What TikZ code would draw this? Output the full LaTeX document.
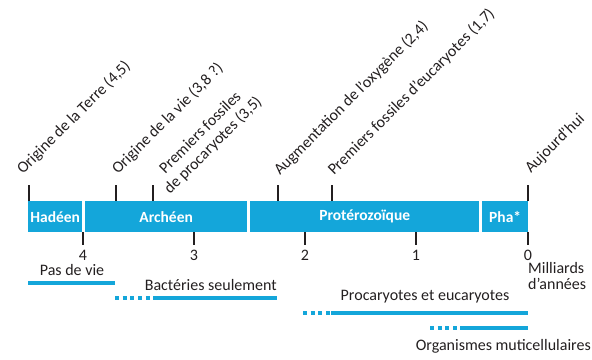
\documentclass[tikz,border=0pt]{standalone}
\usepackage{fontspec}
\setmainfont{Carlito}
\usetikzlibrary{positioning}
\definecolor{geocyan}{HTML}{14A6DA}
\definecolor{geoink}{HTML}{231F20}

\begin{document}
\begin{tikzpicture}[x=1pt,y=1pt,
    font=\fontsize{16}{18}\selectfont,text=geoink,
    era/.style={fill=geocyan,anchor=north west,minimum height=31pt,inner sep=0pt,
      text=white,font=\bfseries\fontsize{15.5}{18}\selectfont},
    evt/.style={rotate=45,inner sep=0pt,anchor=base west},
    tick/.style={geoink,line width=2pt},
    span/.style={geocyan,line width=3.5pt},
    maybe/.style={geocyan,line width=3.5pt,dash pattern=on 4pt off 3.7pt}]
  \useasboundingbox (0,0) rectangle (592,-359);
  % eons
  \foreach \x/\w/\n/\t in {28/54/hadeen/Hadéen,85/162/archeen/Archéen,
      250/229/proterozoique/Protérozoïque,482/46/pha/Pha*}
    \node[era,minimum width=\w pt] (\n) at (\x,-201) {\t};
  % events above the bar
  \foreach \x/\n in {29/terre,116/vie,153/proc,278/oxy,332/euc,528/auj}
    \draw[tick] (\x,-185) coordinate (t\n) -- (\x,-201);
  \node[evt] (lterre) at (23,-175) {Origine de la Terre (4,5)};
  \node[evt] (lvie) at (118,-175) {Origine de la vie (3,8 ?)};
  \node[evt,anchor=south west,align=center] (lproc) at (172,-197)
    {Premiers fossiles\\de procaryotes (3,5)};
  \node[evt] (loxy) at (280,-176) {Augmentation de l'oxygène (2,4)};
  \node[evt] (leuc) at (334,-176) {Premiers fossiles d'eucaryotes (1,7)};
  \node[evt] (lauj) at (531,-174) {Aujourd'hui};
  % scale below the bar
  \foreach \x/\v in {83/4,194/3,305/2,416/1,528/0}{
    \draw[tick] (\x,-232) -- (\x,-245);
    \node[anchor=base,inner sep=0pt] (n\v) at (\x,-260) {\v};
  }
  \node[anchor=north west,inner sep=0pt,align=left,font=\fontsize{16}{16}\selectfont]
    (unit) at (528,-262) {Milliards\\d'années};
  % life
  \node[anchor=base,inner sep=0pt] (nolife) at (72,-275) {Pas de vie};
  \draw[span] (28,-283) -- (115,-283);
  \node[anchor=base east,inner sep=0pt] (bact) at (277,-290) {Bactéries seulement};
  \draw[maybe] (115,-298) -- (152,-298);
  \draw[span] (153,-298) -- (277,-298);
  \node[anchor=base,inner sep=0pt] (euk) at (425,-300) {Procaryotes et eucaryotes};
  \draw[maybe] (303,-313) -- (330,-313);
  \draw[span] (331,-313) -- (528,-313);
  \draw[maybe] (430,-328) -- (457,-328);
  \draw[span] (460,-328) -- (528,-328);
  \node[anchor=base east,inner sep=0pt] (multi) at (591,-350) {Organismes muticellulaires};
\end{tikzpicture}
\end{document}
